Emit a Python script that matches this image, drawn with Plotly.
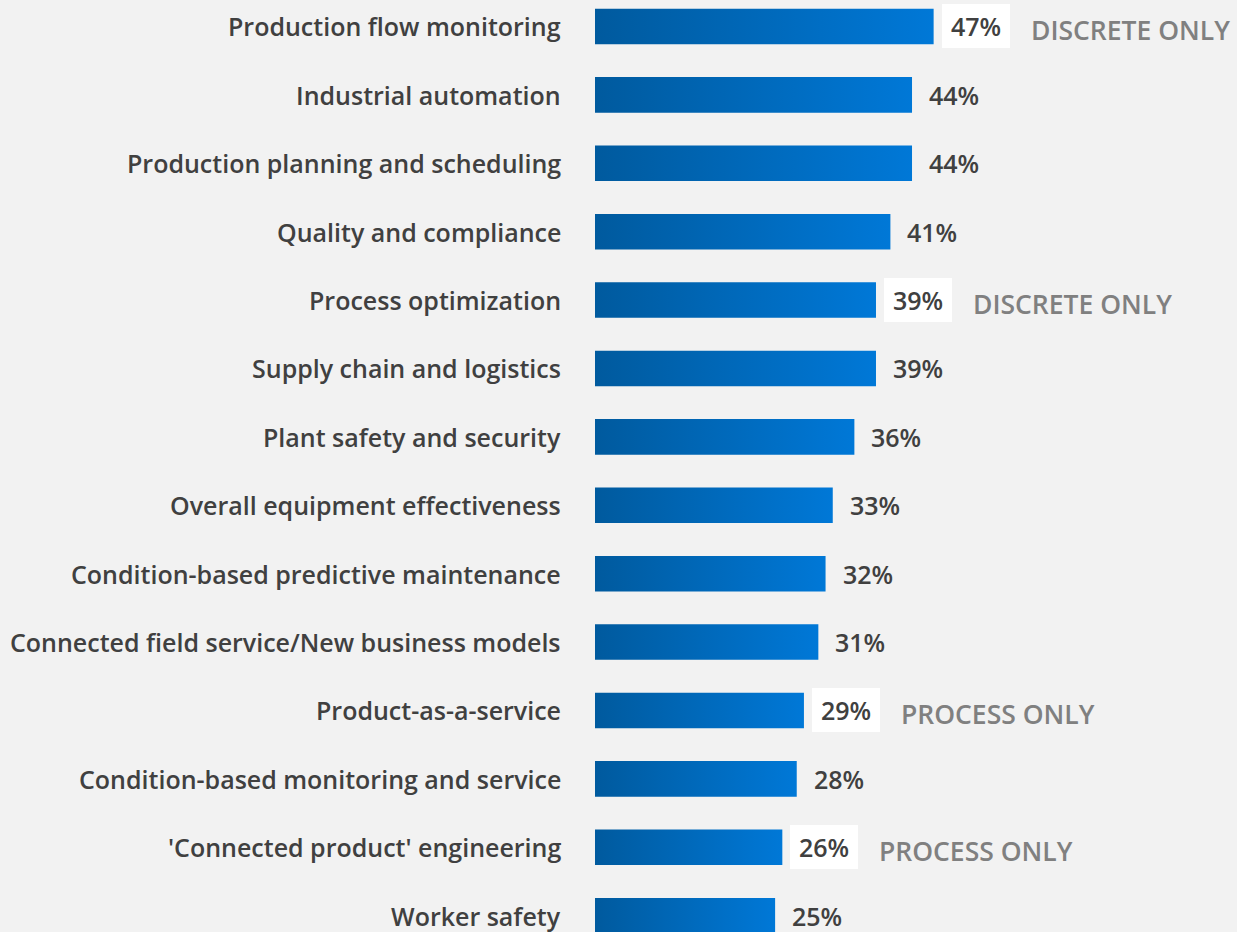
import plotly.graph_objects as go

# data
labels = [
    "Production flow monitoring",
    "Industrial automation",
    "Production planning and scheduling",
    "Quality and compliance",
    "Process optimization",
    "Supply chain and logistics",
    "Plant safety and security",
    "Overall equipment effectiveness",
    "Condition-based predictive maintenance",
    "Connected field service/New business models",
    "Product-as-a-service",
    "Condition-based monitoring and service",
    "'Connected product' engineering",
    "Worker safety",
]
values = [47, 44, 44, 41, 39, 39, 36, 33, 32, 31, 29, 28, 26, 25]
notes = ["DISCRETE ONLY", "", "", "", "DISCRETE ONLY", "", "", "", "", "",
         "PROCESS ONLY", "", "PROCESS ONLY", ""]

BG = "#f2f2f2"
TXT = "#404040"
FONT = "Open Sans"
half = 0.26  # half bar thickness in category units

fig = go.Figure()

# bars drawn as filled shapes so they can carry a horizontal gradient
for i, (lab, v) in enumerate(zip(labels, values)):
    fig.add_trace(go.Scatter(
        x=[0, v, v, 0, 0],
        y=[i - half, i - half, i + half, i + half, i - half],
        mode="lines",
        fill="toself",
        line=dict(width=0, color="#0068b8"),
        fillgradient=dict(type="horizontal",
                          colorscale=[[0, "#005a9e"], [1, "#0078d7"]]),
        name=lab,
        hoveron="fills",
        showlegend=False,
    ))

for i, (lab, v, note) in enumerate(zip(labels, values, notes)):
    fig.add_annotation(x=0, y=i, text=lab, showarrow=False, xanchor="right",
                       xshift=-32, font=dict(family=FONT, size=25, color=TXT, weight=600))
    fig.add_annotation(x=v, y=i, text=f"{v}%", showarrow=False, xanchor="left",
                       xshift=8, width=68, height=44, borderpad=0, borderwidth=0,
                       bgcolor="white" if note else "rgba(0,0,0,0)",
                       font=dict(family=FONT, size=25, color=TXT, weight=600))
    if note:
        fig.add_annotation(x=v, y=i, text=note, showarrow=False, xanchor="left",
                           xshift=95, yshift=-4,
                           font=dict(family=FONT, size=26.5, color="#808080", weight=600))

px = 7.205  # pixels per percentage point
fig.update_layout(
    width=1237, height=932,
    margin=dict(l=0, r=0, t=0, b=0),
    paper_bgcolor=BG, plot_bgcolor=BG,
    xaxis=dict(range=[-595 / px, (1237 - 595) / px], visible=False),
    yaxis=dict(range=[-0.387 + 932 / 68.4, -0.387], visible=False),
    showlegend=False,
)

fig.write_html("out.html", config={"displayModeBar": False},
               post_script="document.body.style.margin='0';document.body.style.background='#f2f2f2';")
